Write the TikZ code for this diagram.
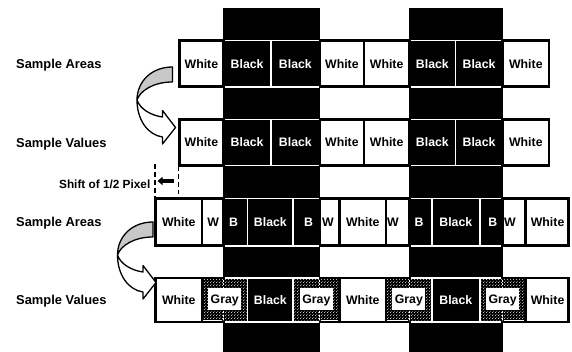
\documentclass[tikz,border=0pt]{standalone}
\usepackage{fontspec}
\setmainfont{Liberation Sans}
\usetikzlibrary{patterns,arrows.meta}
\definecolor{arrowgray}{RGB}{200,200,200}
\pgfdeclarepatternformonly{wdots}{\pgfqpoint{0pt}{0pt}}{\pgfqpoint{3pt}{3pt}}{\pgfqpoint{3pt}{3pt}}{%
  \pgfpathcircle{\pgfqpoint{0.75pt}{0.75pt}}{0.55pt}%
  \pgfpathcircle{\pgfqpoint{2.25pt}{2.25pt}}{0.55pt}%
  \pgfusepath{fill}}
\tikzset{
  wbox/.style={draw=black, fill=white, line width=2.6pt},
  bbox/.style={draw=white, fill=black, line width=1.8pt},
  celltxt/.style={font=\fontsize{12.3}{14}\selectfont\bfseries, anchor=base, inner sep=0pt},
  wtxt/.style={celltxt, text=black},
  btxt/.style={celltxt, text=white},
  lbl/.style={font=\fontsize{12.9}{15}\selectfont\bfseries, anchor=base west, inner sep=0pt},
  stripe/.style={fill=black},
  dline/.style={draw=black, line width=1.4pt, dash pattern=on 5pt off 3pt},
  ribbon/.style={draw=black, line width=1.3pt, line join=round},
  dots/.style={fill=black, postaction={pattern=wdots, pattern color=white}},
  seam/.style={draw=white, line width=0.9pt, dash pattern=on 2pt off 1.5pt},
  graybox/.style={fill=white, minimum width=33pt, minimum height=22pt, inner sep=0pt},
}
% x1 x2 y1 y2 textx name text
\newcommand\WCell[7]{%
  \path[wbox] (#1,#3) rectangle (#2,#4);
  \node[wtxt] (#6) at (#5,{(#3+#4)/2+4.4}) {#7};}
\newcommand\BCell[7]{%
  \path[bbox] (#1,#3) rectangle (#2,#4);
  \node[btxt] (#6) at (#5,{(#3+#4)/2+4.4}) {#7};}
\newcommand\WRect[4]{\path[wbox] (#1,#3) rectangle (#2,#4);}
\newcommand\BRect[4]{\path[bbox] (#1,#3) rectangle (#2,#4);}
% x1 xmid x2 name
\newcommand\GCell[4]{%
  \path[dots] ({#1+1},279.3) rectangle ({#3-1},320.3);
  \draw[seam] (#2,279.5) -- (#2,320);
  \node[graybox] (#4box) at ({(#1+#3)/2},299) {};
  \node[wtxt] (#4) at ({(#1+#3)/2},303.6) {Gray};}
\newcommand\RibbonArrow{%
  \path[ribbon, fill=arrowgray] (172.5,67) .. controls (151,67) and (137,82) .. (137,100)
     .. controls (140,91) and (153,82) .. (172.5,82) -- cycle;
  \path[ribbon, fill=white] (137,100) .. controls (137,120) and (148,135) .. (162.5,137)
     -- (162.5,144) -- (175.5,127.5) -- (162.5,110.5) -- (162.5,117)
     .. controls (151,115.5) and (140,109) .. (137,100) -- cycle;}
\begin{document}
\begin{tikzpicture}[x=1pt,y=-1pt]
\useasboundingbox (0,0) rectangle (572,352);
% stripes
\path[stripe] (223.3,8.3) rectangle (319.8,352);
\path[stripe] (409.3,8.3) rectangle (502.7,352);
% labels
\node[lbl] (la1) at (16,68.2) {Sample Areas};
\node[lbl] (lv1) at (16,147.1) {Sample Values};
\node[lbl] (la2) at (16,226.7) {Sample Areas};
\node[lbl] (lv2) at (16,304.5) {Sample Values};
% row 1
\BCell{223.3}{271}{40.5}{86.8}{247.15}{r1c2}{Black}
\BCell{271}{319.8}{40.5}{86.8}{295.4}{r1c3}{Black}
\BCell{409.3}{455.5}{40.5}{86.8}{432.4}{r1c6}{Black}
\BCell{455.5}{502.7}{40.5}{86.8}{479.1}{r1c7}{Black}
\WCell{179.5}{223.3}{40.5}{86.8}{201.4}{r1c1}{White}
\WCell{319.8}{364}{40.5}{86.8}{341.9}{r1c4}{White}
\WCell{364}{409.3}{40.5}{86.8}{386.65}{r1c5}{White}
\WCell{502.7}{549}{40.5}{86.8}{525.85}{r1c8}{White}
% row 2
\BCell{223.3}{271}{119.5}{165.5}{247.15}{r2c2}{Black}
\BCell{271}{319.8}{119.5}{165.5}{295.4}{r2c3}{Black}
\BCell{409.3}{455.5}{119.5}{165.5}{432.4}{r2c6}{Black}
\BCell{455.5}{502.7}{119.5}{165.5}{479.1}{r2c7}{Black}
\WCell{179.5}{223.3}{119.5}{165.5}{201.4}{r2c1}{White}
\WCell{319.8}{364}{119.5}{165.5}{341.9}{r2c4}{White}
\WCell{364}{409.3}{119.5}{165.5}{386.65}{r2c5}{White}
\WCell{502.7}{549}{119.5}{165.5}{525.85}{r2c8}{White}
% row 3
\BCell{223.3}{247.5}{198.5}{245.8}{233.6}{r3b1}{B}
\BCell{247.5}{293.3}{198.5}{245.8}{270.4}{r3k1}{Black}
\BCell{293.3}{319.8}{198.5}{245.8}{308.6}{r3b2}{B}
\BCell{409.3}{431.7}{198.5}{245.8}{419}{r3b3}{B}
\BCell{431.7}{480}{198.5}{245.8}{455.85}{r3k2}{Black}
\BCell{480}{502.7}{198.5}{245.8}{492.8}{r3b4}{B}
\WCell{155.5}{202}{198.5}{245.8}{178.75}{r3w1}{White}
\WCell{202}{223.3}{198.5}{245.8}{213.2}{r3v1}{W}
\WCell{319.8}{339.5}{198.5}{245.8}{328}{r3v2}{W}
\WCell{339.5}{386}{198.5}{245.8}{362.75}{r3w2}{White}
\WCell{386}{409.3}{198.5}{245.8}{393}{r3v3}{W}
\WCell{502.7}{525.3}{198.5}{245.8}{510}{r3v4}{W}
\WCell{525.3}{568.5}{198.5}{245.8}{547.6}{r3w3}{White}
% row 4
\BRect{223.3}{247.5}{278}{321.8}
\BCell{247.5}{293.3}{278}{321.8}{270.4}{r4k1}{Black}
\BRect{293.3}{319.8}{278}{321.8}
\BRect{409.3}{431.7}{278}{321.8}
\BCell{431.7}{480}{278}{321.8}{455.85}{r4k2}{Black}
\BRect{480}{502.7}{278}{321.8}
\WCell{155.5}{202}{278}{321.8}{178.75}{r4w1}{White}
\WRect{202}{223.3}{278}{321.8}
\WRect{319.8}{339.5}{278}{321.8}
\WCell{339.5}{386}{278}{321.8}{362.75}{r4w2}{White}
\WRect{386}{409.3}{278}{321.8}
\WRect{502.7}{525.3}{278}{321.8}
\WCell{525.3}{568.5}{278}{321.8}{547.6}{r4w3}{White}
\GCell{202}{223.3}{247.5}{g1}
\GCell{293.3}{319.8}{339.5}{g2}
\GCell{386}{409.3}{431.7}{g3}
\GCell{480}{502.7}{525.3}{g4}
% shift indicator
\coordinate (sl1) at (155,164);
\coordinate (sl2) at (155,198);
\coordinate (sr1) at (178.3,166);
\coordinate (sr2) at (178.3,194);
\draw[dline] (sl1) -- (sl2);
\draw[dline] (sr1) -- (sr2);
\coordinate (ar1) at (173.5,181);
\coordinate (ar2) at (157.5,181);
\draw[line width=3.3pt, -{Triangle[length=5pt,width=8pt]}] (ar1) -- (ar2);
\node[font=\fontsize{11.8}{14}\selectfont\bfseries, anchor=base east, inner sep=0pt] (shl) at (150.5,188.2) {Shift of 1/2 Pixel};
% curved arrows
\RibbonArrow
\begin{scope}[shift={(-19.5,155)}]
\RibbonArrow
\end{scope}
\end{tikzpicture}
\end{document}
